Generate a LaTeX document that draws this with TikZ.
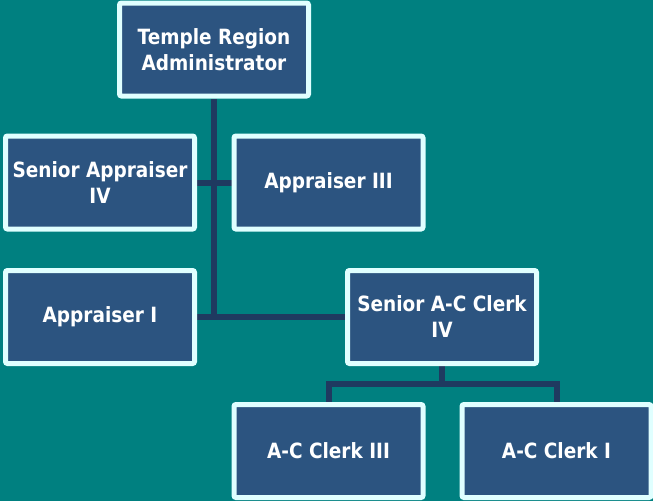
\documentclass[tikz,border=0pt]{standalone}
\usepackage{fontspec}
\setmainfont[FakeStretch=0.88]{DejaVu Sans}
\pgfdeclarelayer{bg}
\pgfdeclarelayer{lines}
\pgfsetlayers{bg,lines,main}
\definecolor{boxblue}{RGB}{44,84,128}
\definecolor{boxrim}{RGB}{224,255,255}
\definecolor{linknavy}{RGB}{31,58,96}
\begin{document}
\begin{tikzpicture}[x=1pt, y=-1pt, font=\bfseries\fontsize{21}{26}\selectfont]

	% ---------- Helper styles ----------
	\tikzset{
		post/.style={draw=boxrim, line width=5pt, fill=boxblue, text=white,
			rounded corners=2pt, minimum width=189pt, minimum height=93pt,
			inner sep=0pt, align=center},
		link/.style={draw=linknavy, line width=6pt}
	}

	% ---------- Background ----------
	\begin{pgfonlayer}{bg}
		\fill[teal] (0,0) rectangle (653,501);
	\end{pgfonlayer}
	\useasboundingbox (0,0) rectangle (653,501);

	% ---------- Boxes ----------
	\node[post] (admin) at (214,49.5) {Temple Region\\Administrator};
	\node[post] (sap4) at (100,182.5) {Senior Appraiser\\IV};
	\node[post] (ap3) at (328.5,182.5) {Appraiser III};
	\node[post] (ap1) at (100,317) {Appraiser I};
	\node[post] (sacc4) at (442,317) {Senior A-C Clerk\\IV};
	\node[post] (acc3) at (328.5,451) {A-C Clerk III};
	\node[post] (acc1) at (556.5,451) {A-C Clerk I};

	% ---------- Connectors ----------
	\begin{pgfonlayer}{lines}
		\draw[link] (admin.south) -- (admin.south |- ap1.east);
		\draw[link] (sap4.east) -- (ap3.west);
		\draw[link] (ap1.east) -- (sacc4.west);
		\draw[link] (sacc4.south) -- ++(0,18) coordinate (split);
		\draw[link] (acc3.north) |- (split) -| (acc1.north);
	\end{pgfonlayer}

\end{tikzpicture}
\end{document}
